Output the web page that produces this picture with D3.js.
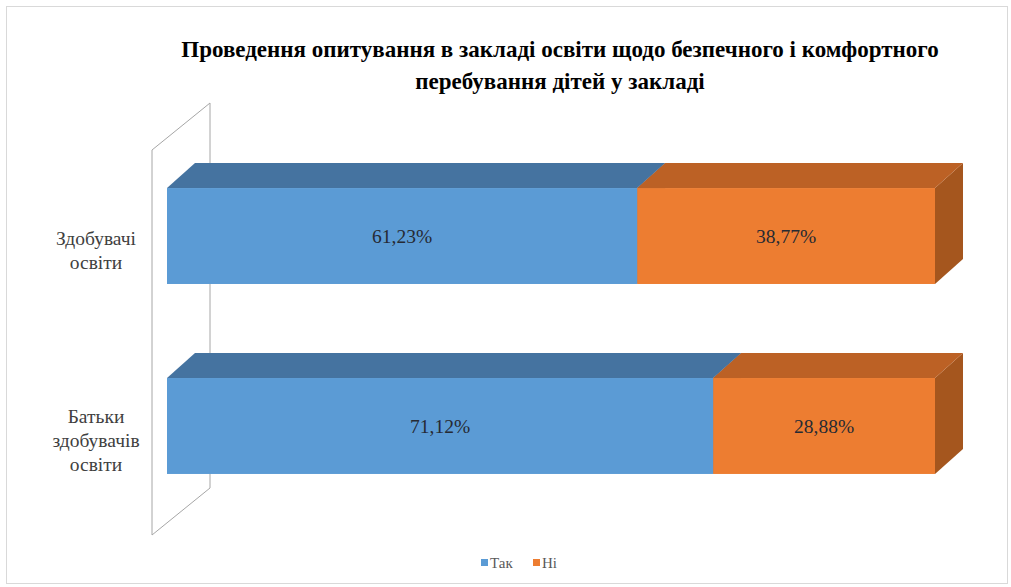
<!DOCTYPE html>
<html><head><meta charset="utf-8">
<script src="https://cdn.jsdelivr.net/npm/d3@7/dist/d3.min.js"></script>
<style>body{margin:0;background:#fff}svg{display:block}</style>
</head><body>
<svg id="c" width="1011" height="587"></svg>
<script>
const titleLines = ["Проведення опитування в закладі освіти щодо безпечного і комфортного", "перебування дітей у закладі"];
const categories = ["Здобувачі освіти", "Батьки здобувачів освіти"];
const categoryLines = [["Здобувачі", "освіти"], ["Батьки", "здобувачів", "освіти"]];
const seriesNames = ["Так", "Ні"];
const yesValues = [61.23, 71.12];
const noValues = [38.77, 28.88];
const valueLabels = [["61,23%", "38,77%"], ["71,12%", "28,88%"]];

const colors = {
  front: ["#5B9BD5", "#ED7D31"],
  top: ["#4573A0", "#BC6125"],
  side: ["#3F6A94", "#A5561E"]
};
const serif = '"Liberation Serif", "Tinos", "Times New Roman", serif';

const svg = d3.select("#c");
svg.append("rect").attr("x", 6.5).attr("y", 6.5).attr("width", 1001).attr("height", 577)
  .attr("fill", "#fff").attr("stroke", "#d9d9d9");

const x = d3.scaleLinear().domain([0, 100]).range([167, 935]);
const y = d3.scaleBand().domain(categories).range([94, 568]).padding(0.495);
const ddx = 28, ddy = -25;

// wall
const wx0 = x(0) - 15, wx1 = x(0) + 43;
const wTop = 150, wBot = 535, wdy = -47;
svg.append("path")
  .attr("d", `M${wx0},${wTop} L${wx1},${wTop + wdy} L${wx1},${wBot + wdy} L${wx0},${wBot} Z`)
  .attr("fill", "none").attr("stroke", "#a6a6a6").attr("stroke-width", 1);

// bars
const rows = categories.map((c, i) => ({c, segs: [
  {s: 0, v0: 0, v1: yesValues[i], label: valueLabels[i][0]},
  {s: 1, v0: yesValues[i], v1: yesValues[i] + noValues[i], label: valueLabels[i][1]}
]}));

rows.forEach(r => {
  const y0 = y(r.c), h = y.bandwidth();
  const g = svg.append("g");
  r.segs.forEach(sg => {
    const b = x(sg.v1);
    g.append("path").attr("d", `M${b},${y0} L${b + ddx},${y0 + ddy} L${b + ddx},${y0 + h + ddy} L${b},${y0 + h} Z`)
      .attr("fill", colors.side[sg.s]);
  });
  r.segs.forEach(sg => {
    const a = x(sg.v0), b = x(sg.v1);
    g.append("path").attr("d", `M${a},${y0} L${a + ddx},${y0 + ddy} L${b + ddx},${y0 + ddy} L${b},${y0} Z`)
      .attr("fill", colors.top[sg.s]);
    g.append("rect").attr("x", a).attr("y", y0).attr("width", b - a).attr("height", h)
      .attr("fill", colors.front[sg.s]);
  });
  r.segs.forEach(sg => {
    g.append("text").attr("x", (x(sg.v0) + x(sg.v1)) / 2).attr("y", y0 + h / 2 + 7)
      .attr("text-anchor", "middle").style("font-family", serif).style("font-size", "19.5px")
      .attr("fill", "#262a33").text(sg.label);
  });
});

// category labels
categories.forEach((c, i) => {
  const lines = categoryLines[i];
  const cy = y(c) + y.bandwidth() / 2 + 15;
  const t = svg.append("text").attr("text-anchor", "middle").style("font-family", serif)
    .style("font-size", "19.5px").attr("fill", "#404040");
  lines.forEach((l, j) => {
    t.append("tspan").attr("x", 96).attr("y", cy + (j - (lines.length - 1) / 2) * 24 + 6).text(l);
  });
});

// title
titleLines.forEach((l, i) => {
  svg.append("text").attr("x", 560).attr("y", 57 + i * 32).attr("text-anchor", "middle")
    .style("font-family", serif).style("font-weight", "bold").style("font-size", "23px")
    .attr("fill", "#000").text(l);
});

// legend
const lg = svg.append("g").style("font-family", serif).style("font-size", "15px").attr("fill", "#595959");
const legendX = [481, 533];
seriesNames.forEach((n, i) => {
  lg.append("rect").attr("x", legendX[i]).attr("y", 559).attr("width", 7).attr("height", 7).attr("fill", colors.front[i]);
  lg.append("text").attr("x", legendX[i] + 9).attr("y", 568).text(n);
});
</script>
</body></html>
